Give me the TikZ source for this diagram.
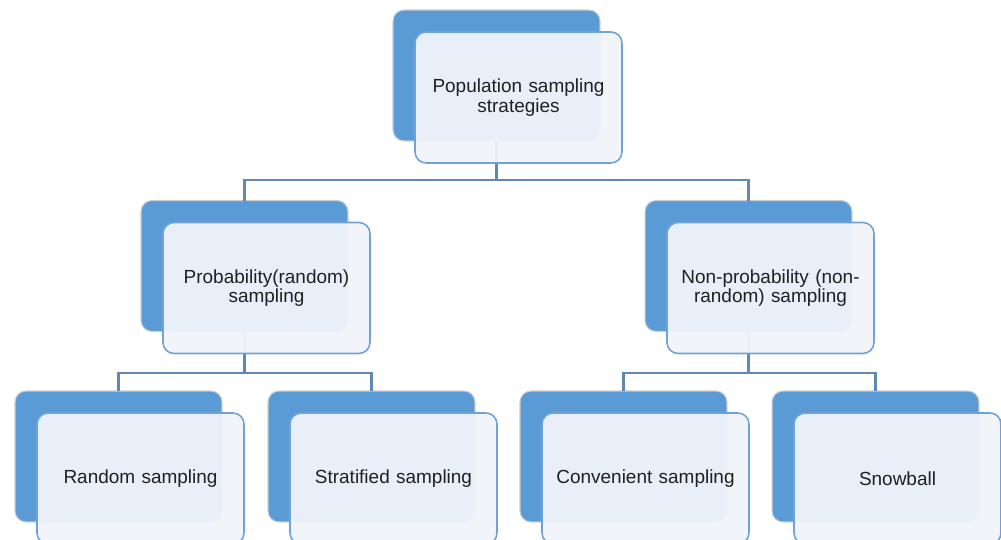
\documentclass[tikz,border=0pt]{standalone}
\usepackage{fontspec}
\setmainfont{Liberation Sans}
\usetikzlibrary{calc}
\definecolor{backblue}{HTML}{5B9BD5}
\definecolor{backedge}{HTML}{C9CDD2}
\definecolor{frontfill}{HTML}{F0F4FA}
\definecolor{frontedge}{HTML}{6FA2D6}
\definecolor{linkcol}{HTML}{5F88B2}
\definecolor{textcol}{HTML}{202020}
\tikzset{
  px/.style={x=0.02cm,y=-0.02cm},
  backbox/.style={draw=backedge, line width=0.6pt, fill=backblue, rounded corners=0.22cm,
    minimum width=4.14cm, minimum height=2.62cm, inner sep=0pt, outer sep=0pt},
  frontbox/.style={draw=frontedge, line width=0.9pt, fill=frontfill, fill opacity=0.95,
    text opacity=1, rounded corners=0.22cm, minimum width=4.14cm, minimum height=2.62cm,
    inner sep=0pt, outer sep=0pt, text width=3.9cm, align=center, text=textcol,
    font=\fontsize{10.8}{10}\selectfont},
  link/.style={draw=linkcol, line width=1.2pt}
}
\begin{document}
\begin{tikzpicture}[px]
\useasboundingbox (0,0) rectangle (1001,540);
% back (blue) boxes
\node[backbox] (b0) at (496.5,75.5) {};
\node[backbox] (b1) at (244.5,266) {};
\node[backbox] (b2) at (748.5,266) {};
\node[backbox] (b3) at (118.5,456.5) {};
\node[backbox] (b4) at (371.5,456.5) {};
\node[backbox] (b5) at (623.5,456.5) {};
\node[backbox] (b6) at (875.5,456.5) {};
% bus levels
\coordinate (busA) at (0,180);
\coordinate (busB) at (0,373);
% connectors
\draw[link] (b0.south) -- (b0.south |- busA) -| (b1.north);
\draw[link] (b0.south |- busA) -| (b2.north);
\draw[link] (b1.south) -- (b1.south |- busB) -| (b3.north);
\draw[link] (b1.south |- busB) -| (b4.north);
\draw[link] (b2.south) -- (b2.south |- busB) -| (b5.north);
\draw[link] (b2.south |- busB) -| (b6.north);
% front (text) boxes
\node[frontbox] (f0) at ($(b0)+(22,22)$) {Population sampling\\strategies};
\node[frontbox] (f1) at ($(b1)+(22,22)$) {Probability(random)\\sampling};
\node[frontbox] (f2) at ($(b2)+(22,22)$) {Non-probability (non-\\random) sampling};
\node[frontbox] (f3) at ($(b3)+(22,22)$) {Random sampling};
\node[frontbox] (f4) at ($(b4)+(22,22)$) {Stratified sampling};
\node[frontbox] (f5) at ($(b5)+(22,22)$) {Convenient sampling};
\node[frontbox] (f6) at ($(b6)+(22,22)$) {Snowball};
\end{tikzpicture}
\end{document}
